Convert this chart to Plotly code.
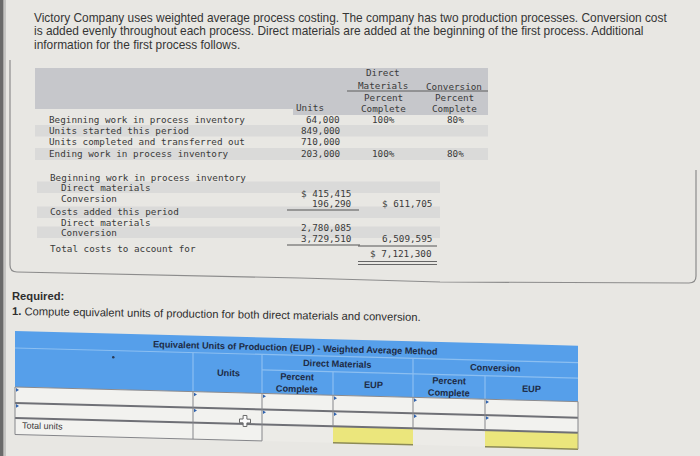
import math
import plotly.graph_objects as go

W, H = 700, 456

# ---- data -------------------------------------------------------------
intro_lines = [
    "Victory Company uses weighted average process costing. The company has two production processes. Conversion cost",
    "is added evenly throughout each process. Direct materials are added at the beginning of the first process. Additional",
    "information for the first process follows.",
]

unit_labels = [
    "Beginning work in process inventory",
    "Units started this period",
    "Units completed and transferred out",
    "Ending work in process inventory",
]
unit_counts = [64000, 849000, 710000, 203000]
dm_pct = [100, None, None, 100]
conv_pct = [80, None, None, 80]

cost_labels = [
    "Beginning work in process inventory",
    "Direct materials",
    "Conversion",
    "Costs added this period",
    "Direct materials",
    "Conversion",
    "Total costs to account for",
]
cost_indent = [0, 1, 1, 0, 1, 1, 0]
cost_items = [None, 415415, 196290, None, 2780085, 3729510, None]
cost_totals = [None, None, 611705, None, None, 6509595, 7121300]
item_dollar_rows = [1]
total_dollar_rows = [2, 6]

required_title = "Required:"
required_text = "Compute equivalent units of production for both direct materials and conversion."

eup_title = "Equivalent Units of Production (EUP) - Weighted Average Method"
eup_groups = ["Direct Materials", "Conversion"]
eup_cols = ["Units", "Percent<br>Complete", "EUP", "Percent<br>Complete", "EUP"]
eup_total_label = "Total units"

# ---- style ------------------------------------------------------------
BG = "#e8e7e3"
MONO = "DejaVu Sans Mono"
SANS = "Liberation Sans, Arial, sans-serif"
TXT = "#3a3a3a"
HEAD_GREY = "#c6c7cb"
STRIPE = "#dadad9"
BLUE = "#569fea"
BLUE_LINE = "#8cbff1"
NAVY = "#1d2b45"
CELL = "#f2f2ef"
CELL2 = "#ecebe7"
CELL_LINE = "#6f7076"
YELLOW = "#ebe67c"
MONO_SIZE = 9.3

SLOPE = 0.026      # photo tilt of the lower table
X0 = 15
ANG = math.degrees(math.atan(SLOPE))

shapes = []
annotations = []


def text(x, y, s, size=MONO_SIZE, color=TXT, family=MONO, xanchor="left", angle=0):
    annotations.append(dict(
        x=x, y=y, xref="x", yref="y", text=s, showarrow=False,
        xanchor=xanchor, yanchor="middle", textangle=angle, borderpad=0,
        font=dict(size=size, color=color, family=family),
    ))


def rect(x0, y0, x1, y1, fill):
    shapes.append(dict(type="rect", xref="x", yref="y", x0=x0, y0=y0, x1=x1, y1=y1,
                       fillcolor=fill, line=dict(width=0), layer="below"))


def hline(x0, x1, y, color="#555", lw=1):
    shapes.append(dict(type="line", xref="x", yref="y", x0=x0, x1=x1, y0=y, y1=y,
                       line=dict(color=color, width=lw)))


def tp(x, y):
    return x, y + SLOPE * (x - X0)


def tpath(pts, fill=None, line=None, lw=0, closed=True):
    p = "M " + " L ".join("%.2f,%.2f" % tp(x, y) for x, y in pts)
    if closed:
        p += " Z"
    d = dict(type="path", xref="x", yref="y", path=p, line=dict(width=lw, color=line or "rgba(0,0,0,0)"))
    if fill:
        d["fillcolor"] = fill
    shapes.append(d)


def trect(x0, y0, x1, y1, fill):
    tpath([(x0, y0), (x1, y0), (x1, y1), (x0, y1)], fill=fill)


def tline(x0, y0, x1, y1, color, lw=1):
    tpath([(x0, y0), (x1, y1)], line=color, lw=lw, closed=False)


def ttext(x, y, s, size=9.2, color=NAVY, bold=True, family=SANS):
    xx, yy = tp(x, y)
    text(xx, yy, "<b>%s</b>" % s if bold else s, size=size, color=color,
         family=family, xanchor="center", angle=ANG)


# ---- frame ------------------------------------------------------------
rect(0, 0, 3.5, H, "#6a6a6a")
shapes.append(dict(type="line", xref="x", yref="y", x0=5, x1=5, y0=0, y1=H,
                   line=dict(color="#a3a3a3", width=1)))
shapes.append(dict(type="path", xref="x", yref="y",
                   path="M 10,60 L 10,265 Q 10,272 17,272 L 300,278 L 440,282 L 689,283 Q 696,283 696,276 L 696,170",
                   line=dict(color="#8c8c8c", width=1.2)))

# ---- intro ------------------------------------------------------------
for i, ln in enumerate(intro_lines):
    text(33, 17.5 + i * 13.5, ln, size=11.9, color="#353535", family=SANS)

# ---- units table ------------------------------------------------------
rect(35, 68, 488, 109, HEAD_GREY)
rect(293, 108, 488, 115, HEAD_GREY)
rect(35, 125, 488, 136.5, STRIPE)
rect(35, 148, 488, 160, STRIPE)
hline(347, 488, 91, "#5c5c5c", 1)

text(383, 72, "Direct", xanchor="center")
text(383, 85.5, "Materials", xanchor="center")
text(454, 86, "Conversion", xanchor="center")
for cx in (383, 454):
    text(cx, 97.5, "Percent", xanchor="center")
    text(cx, 108.5, "Complete", xanchor="center")
text(310, 107.5, "Units", xanchor="center")

row_y = [119, 130, 141.5, 153]
for i, lab in enumerate(unit_labels):
    text(48, row_y[i], lab)
    text(341, row_y[i], f"{unit_counts[i]:,}", xanchor="right")
    if dm_pct[i] is not None:
        text(383, row_y[i], f"{dm_pct[i]}%", xanchor="center")
    if conv_pct[i] is not None:
        text(455, row_y[i], f"{conv_pct[i]}%", xanchor="center")

# ---- costs block ------------------------------------------------------
rect(37, 181.5, 440, 193, STRIPE)
rect(37, 206.5, 440, 218, STRIPE)
rect(37, 226.5, 440, 238, STRIPE)

cost_y = [177, 187.5, 198, 211.5, 222, 232.5, 248]
for i, lab in enumerate(cost_labels):
    text(49 + 11 * cost_indent[i], cost_y[i], lab)
    if cost_items[i] is not None:
        s = f"{cost_items[i]:,}"
        if i in item_dollar_rows:
            s = "$ " + s
        text(352, cost_y[i] + 5.5, s, xanchor="right")
    if cost_totals[i] is not None:
        s = f"{cost_totals[i]:,}"
        if i in total_dollar_rows:
            s = "$ " + s
        text(433, cost_y[i] + 5.5, s, xanchor="right")

hline(287, 359, 210, "#555", 1)
hline(287, 360, 245, "#555", 1)
hline(358, 437, 246, "#555", 1)
hline(358, 437, 261.5, "#666", 1.2)
hline(358, 437, 264.5, "#666", 1.2)

# ---- required ---------------------------------------------------------
text(11, 295.5, "<b>%s</b>" % required_title, size=11.2, color="#2e2e2e", family=SANS)
text(11, 314, "<b>1.</b> " + required_text, size=11.2, color="#2e2e2e", family=SANS, angle=0.85)

# ---- EUP table (tilted) ----------------------------------------------
cols = [15, 193, 262, 333, 413, 485, 578]
top, hb, r1, r2, r3 = 331, 387, 403, 418, 434.5

trect(cols[0], top, cols[-1], hb, BLUE)
tline(cols[0], 348, cols[-1], 348, BLUE_LINE, 1.2)
tline(cols[2], 363.5, cols[-1], 363.5, BLUE_LINE, 1.2)
for j, x in enumerate(cols[1:-1], start=1):
    y0 = 363.5 if j in (3, 5) else 348
    tline(x, y0, x, hb, BLUE_LINE, 1.2)

ttext(295, 340.5, eup_title)
ttext(337, 356, eup_groups[0])
ttext(495, 356, eup_groups[1])
ttext(228, 367.5, eup_cols[0])
ttext(297, 375.5, eup_cols[1])
ttext(373, 375.5, eup_cols[2])
ttext(449, 375.5, eup_cols[3])
ttext(531, 375.5, eup_cols[4])

# input rows
trect(cols[0], hb, cols[-1], r2, CELL)
trect(cols[0], r2, cols[2], r3, CELL)
trect(cols[2], r2, cols[3], r3, CELL2)
trect(cols[3], r2, cols[4], r3, YELLOW)
trect(cols[4], r2, cols[5], r3, CELL2)
trect(cols[5], r2, cols[6], r3, YELLOW)

tline(cols[0], hb, cols[-1], hb, "#8a8a8e", 1)
tline(cols[0], r1, cols[-1], r1, CELL_LINE, 2)
tline(cols[0], r2, cols[-1], r2, CELL_LINE, 2)
for x in cols:
    tline(x, hb, x, r2, "#85868a", 1)
for x in (cols[0], cols[1], cols[2]):
    tline(x, r2, x, r3, "#85868a", 1)
tline(cols[0], r3, cols[2], r3, "#85868a", 1)
tline(cols[3], r3, cols[4], r3, "#8c8a55", 1.5)
tline(cols[5], r3, cols[6], r3, "#8c8a55", 1.5)
tline(cols[6], r2, cols[6], r3, "#9a9a80", 1)

for ry in (hb, r1):
    for x in cols[:-1]:
        tpath([(x + 1, ry + 1), (x + 4, ry + 2.8), (x + 1, ry + 4.6)], fill="#2f62ae")

xx, yy = tp(21, 426 - SLOPE * 6)
text(xx, yy, eup_total_label, size=9, color="#3a3a3a", family=SANS, angle=ANG)

# cursor
cx, cy = 245, 415
a, b = 1.9, 5.5
tpath([(cx - a, cy - b), (cx + a, cy - b), (cx + a, cy - a), (cx + b, cy - a), (cx + b, cy + a),
       (cx + a, cy + a), (cx + a, cy + b), (cx - a, cy + b), (cx - a, cy + a), (cx - b, cy + a),
       (cx - b, cy - a), (cx - a, cy - a)], fill="#fafafa", line="#6a6a6a", lw=1)

# speck in header
shapes.append(dict(type="circle", xref="x", yref="y", x0=112, x1=114.5, y0=356, y1=358.5,
                   fillcolor="#2a3a55", line=dict(width=0)))

fig = go.Figure(go.Scatter(x=[], y=[]))
fig.update_layout(
    width=W, height=H,
    margin=dict(l=0, r=0, t=0, b=0),
    paper_bgcolor=BG, plot_bgcolor=BG,
    xaxis=dict(range=[0, W], visible=False, fixedrange=True),
    yaxis=dict(range=[H, 0], visible=False, fixedrange=True),
    shapes=shapes, annotations=annotations,
    showlegend=False,
)
fig.write_html(
    "out.html",
    config={"displayModeBar": False},
    post_script="document.body.style.margin='0px';document.body.style.overflow='hidden';",
)
